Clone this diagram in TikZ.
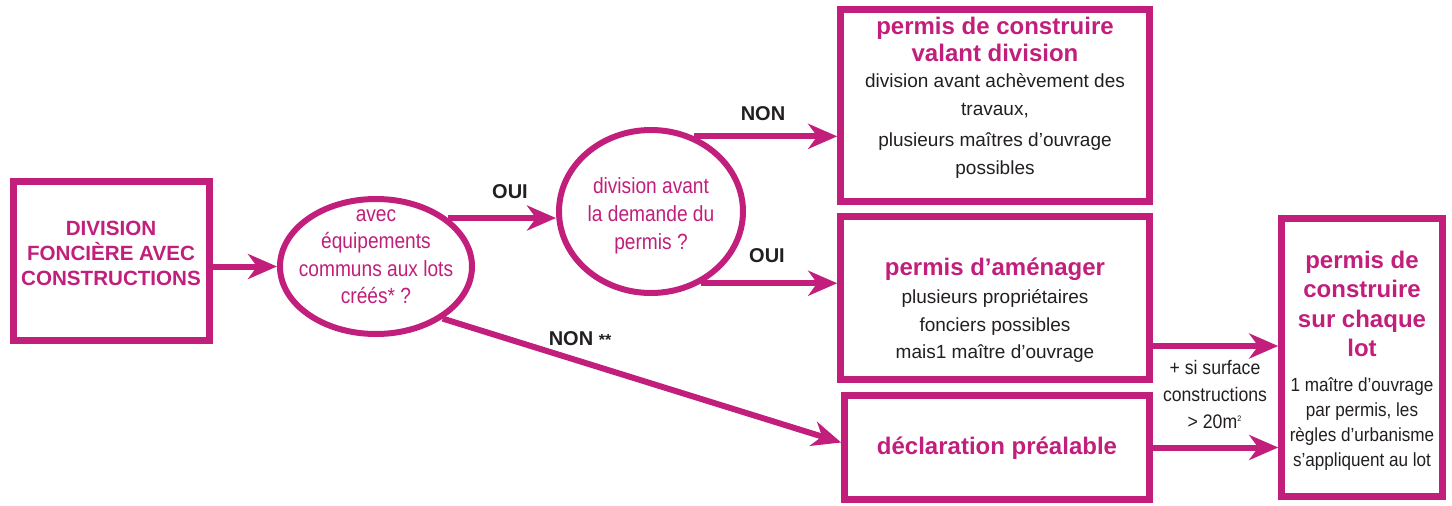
\documentclass[tikz,border=0pt]{standalone}
\usepackage{fontspec}
\setmainfont{Liberation Sans}
\newfontfamily\narrowfont[FakeStretch=0.9]{Liberation Sans}
\newfontfamily\ovalfont[FakeStretch=0.87]{Liberation Sans}
\usetikzlibrary{arrows.meta,shapes.geometric,calc}
\definecolor{mag}{HTML}{C11F7B}
\definecolor{ink}{HTML}{231F20}
\tikzset{
  box/.style={draw=mag, line width=3.3pt, fill=white, inner sep=0pt},
  oval/.style={ellipse, draw=mag, line width=3pt, fill=white, inner sep=0pt},
  conn/.style={draw=mag, line width=3pt, -{Stealth[length=14.5pt,width=12.5pt,inset=4.5pt]}},
  lbl/.style={font=\bfseries\fontsize{10}{12}\selectfont, text=ink, inner sep=0pt},
  ttl/.style={font=\bfseries\fontsize{10.3}{12.5}\selectfont, text=mag, align=center, inner sep=0pt},
  ques/.style={font=\ovalfont\fontsize{11}{13.7}\selectfont, text=mag, align=center, inner sep=0pt},
  head/.style={font=\bfseries\fontsize{12}{13.5}\selectfont, text=mag, align=center, inner sep=0pt},
  body/.style={font=\fontsize{9.5}{14}\selectfont, text=ink, align=center, inner sep=0pt},
  smalltxt/.style={font=\narrowfont\fontsize{9.5}{12.5}\selectfont, text=ink, align=center, inner sep=0pt},
  note/.style={font=\narrowfont\fontsize{9.8}{13.7}\selectfont, text=ink, align=center, inner sep=0pt},
}
\begin{document}
\begin{tikzpicture}[x=0.5pt,y=-0.5pt]
\useasboundingbox (0,0) rectangle (1452,505);
% shapes
\node[box, minimum width=98pt, minimum height=79.5pt] (b1) at (111.5,261) {};
\node[oval, minimum width=96pt, minimum height=67.5pt] (e1) at (376,266.5) {};
\node[oval, minimum width=92pt, minimum height=81.5pt] (e2) at (651,211.5) {};
\node[box, minimum width=154.5pt, minimum height=96pt] (b3) at (995,105.5) {};
\node[box, minimum width=154.5pt, minimum height=81.5pt] (b4) at (995,298) {};
\node[box, minimum width=152.5pt, minimum height=52pt] (b5) at (997,447.5) {};
\node[box, minimum width=80.5pt, minimum height=139pt] (b6) at (1362,357.5) {};
% texts
\node[ttl] (t1) at (111,253) {DIVISION\\FONCIÈRE AVEC\\CONSTRUCTIONS};
\node[ques] (q1) at (376,256.5) {avec\\équipements\\communs aux lots\\créés* ?};
\node[ques, font=\ovalfont\fontsize{11}{14}\selectfont] (q2) at (651,216) {division avant\\la demande du\\permis ?};
\node[head] (h3) at (995,39) {permis de construire\\valant division};
\node[body] (x3) at (995,125.5) {division avant achèvement des\\travaux,\\[1.5pt]plusieurs maîtres d’ouvrage\\possibles};
\node[head] (h4) at (995,269) {permis d’aménager};
\node[body, font=\fontsize{9.5}{13.75}\selectfont] (x4) at (995,326) {plusieurs propriétaires\\fonciers possibles\\mais1 maître d’ouvrage};
\node[head] (h5) at (997,448) {déclaration préalable};
\node[head, font=\bfseries\fontsize{12}{14.6}\selectfont] (h6) at (1362,304) {permis de\\construire\\sur chaque\\lot};
\node[smalltxt] (x6) at (1362,424.5) {1 maître d’ouvrage\\par permis, les\\règles d’urbanisme\\s’appliquent au lot};
\node[note] (n1) at (1215,394.5) {+ si surface\\constructions\\> 20m\textsuperscript{\fontsize{4}{4}\selectfont 2}};
\node[lbl] (l1) at (510,192) {OUI};
\node[lbl] (l2) at (763,114) {NON};
\node[lbl] (l3) at (767,256) {OUI};
\node[lbl] (l4) at (580,339) {NON {\fontsize{8}{8}\selectfont **}};
% connectors
\draw[conn] (b1.east |- e1.west) -- (e1.west);
\draw[conn] (e1.34) -- (e1.34 -| e2.west);
\draw[conn] (e2.60) -- (e2.60 -| b3.west);
\draw[conn] (e2.-55) -- (e2.-55 -| b4.west);
\coordinate (c5) at ($(b5.west)+(0,-5)$);
\draw[conn] (e1.-38) -- (c5);
\coordinate (s4) at ($(b4.east)+(0,48)$);
\draw[conn] (s4) -- (s4 -| b6.west);
\draw[conn] (b5.east) -- (b5.east -| b6.west);
\end{tikzpicture}
\end{document}
